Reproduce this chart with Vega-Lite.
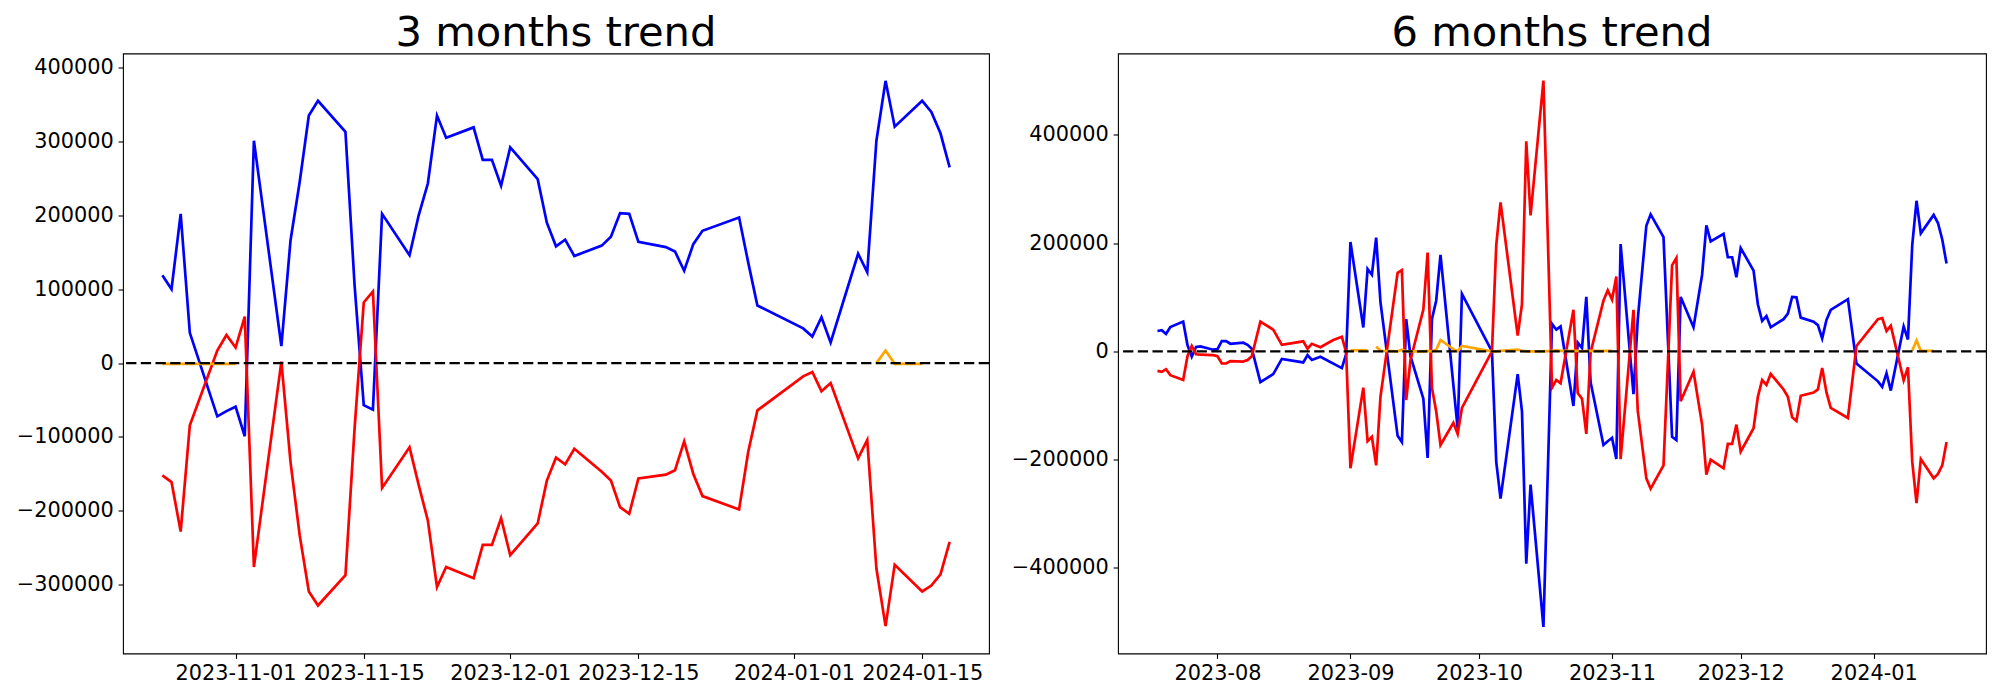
{
"$schema": "https://vega.github.io/schema/vega-lite/v6.json",
"background": "white",
"padding": {"left": 15, "top": 12.5, "right": 5, "bottom": 5},
"config": {
  "view": {"stroke": "black", "strokeWidth": 1.1},
  "font": "DejaVu Sans",
  "axis": {"grid": false, "domain": false, "tickColor": "black", "tickWidth": 1.1, "tickSize": 4.9, "labelPadding": 4.9, "labelFontSize": 20.83, "labelColor": "black", "labelFont": "DejaVu Sans", "title": null, "labelOverlap": false, "labelFlush": false, "labelBound": false},
  "title": {"fontSize": 41.67, "font": "DejaVu Sans", "fontWeight": "normal", "color": "black", "offset": -1.5, "baseline": "alphabetic", "frame": "group", "anchor": "middle"}
},
"datasets": {
"left": [
{"d":"2023-10-24","s":"b","g":"b","v":119000},{"d":"2023-10-25","s":"b","g":"b","v":100000},{"d":"2023-10-26","s":"b","g":"b","v":202000},{"d":"2023-10-27","s":"b","g":"b","v":41000},{"d":"2023-10-30","s":"b","g":"b","v":-72000},{"d":"2023-10-31","s":"b","g":"b","v":-65000},{"d":"2023-11-01","s":"b","g":"b","v":-59000},{"d":"2023-11-02","s":"b","g":"b","v":-99000},{"d":"2023-11-03","s":"b","g":"b","v":301000},{"d":"2023-11-06","s":"b","g":"b","v":23000},{"d":"2023-11-07","s":"b","g":"b","v":166000},{"d":"2023-11-08","s":"b","g":"b","v":245000},{"d":"2023-11-09","s":"b","g":"b","v":335000},{"d":"2023-11-10","s":"b","g":"b","v":355000},{"d":"2023-11-13","s":"b","g":"b","v":313000},{"d":"2023-11-14","s":"b","g":"b","v":105000},{"d":"2023-11-15","s":"b","g":"b","v":-57000},{"d":"2023-11-16","s":"b","g":"b","v":-63000},{"d":"2023-11-17","s":"b","g":"b","v":202000},{"d":"2023-11-20","s":"b","g":"b","v":146000},{"d":"2023-11-21","s":"b","g":"b","v":200000},{"d":"2023-11-22","s":"b","g":"b","v":243000},{"d":"2023-11-23","s":"b","g":"b","v":335000},{"d":"2023-11-24","s":"b","g":"b","v":305000},{"d":"2023-11-27","s":"b","g":"b","v":319000},{"d":"2023-11-28","s":"b","g":"b","v":275000},{"d":"2023-11-29","s":"b","g":"b","v":275000},{"d":"2023-11-30","s":"b","g":"b","v":240000},{"d":"2023-12-01","s":"b","g":"b","v":292000},{"d":"2023-12-04","s":"b","g":"b","v":249000},{"d":"2023-12-05","s":"b","g":"b","v":190000},{"d":"2023-12-06","s":"b","g":"b","v":158000},{"d":"2023-12-07","s":"b","g":"b","v":167000},{"d":"2023-12-08","s":"b","g":"b","v":145000},{"d":"2023-12-11","s":"b","g":"b","v":159000},{"d":"2023-12-12","s":"b","g":"b","v":171000},{"d":"2023-12-13","s":"b","g":"b","v":203000},{"d":"2023-12-14","s":"b","g":"b","v":202000},{"d":"2023-12-15","s":"b","g":"b","v":164000},{"d":"2023-12-18","s":"b","g":"b","v":157000},{"d":"2023-12-19","s":"b","g":"b","v":151000},{"d":"2023-12-20","s":"b","g":"b","v":125000},{"d":"2023-12-21","s":"b","g":"b","v":161000},{"d":"2023-12-22","s":"b","g":"b","v":179000},{"d":"2023-12-26","s":"b","g":"b","v":197000},{"d":"2023-12-27","s":"b","g":"b","v":136000},{"d":"2023-12-28","s":"b","g":"b","v":78000},{"d":"2024-01-02","s":"b","g":"b","v":47000},{"d":"2024-01-03","s":"b","g":"b","v":36000},{"d":"2024-01-04","s":"b","g":"b","v":62000},{"d":"2024-01-05","s":"b","g":"b","v":28000},{"d":"2024-01-08","s":"b","g":"b","v":148000},{"d":"2024-01-09","s":"b","g":"b","v":123000},{"d":"2024-01-10","s":"b","g":"b","v":301000},{"d":"2024-01-11","s":"b","g":"b","v":382000},{"d":"2024-01-12","s":"b","g":"b","v":320000},{"d":"2024-01-15","s":"b","g":"b","v":355000},{"d":"2024-01-16","s":"b","g":"b","v":340000},{"d":"2024-01-17","s":"b","g":"b","v":311000},{"d":"2024-01-18","s":"b","g":"b","v":265000},
{"d":"2023-10-24","s":"r","g":"r","v":-152000},{"d":"2023-10-25","s":"r","g":"r","v":-161000},{"d":"2023-10-26","s":"r","g":"r","v":-228000},{"d":"2023-10-27","s":"r","g":"r","v":-84000},{"d":"2023-10-30","s":"r","g":"r","v":17000},{"d":"2023-10-31","s":"r","g":"r","v":38000},{"d":"2023-11-01","s":"r","g":"r","v":21000},{"d":"2023-11-02","s":"r","g":"r","v":63000},{"d":"2023-11-03","s":"r","g":"r","v":-276000},{"d":"2023-11-06","s":"r","g":"r","v":2000},{"d":"2023-11-07","s":"r","g":"r","v":-134000},{"d":"2023-11-08","s":"r","g":"r","v":-233000},{"d":"2023-11-09","s":"r","g":"r","v":-309000},{"d":"2023-11-10","s":"r","g":"r","v":-328000},{"d":"2023-11-13","s":"r","g":"r","v":-287000},{"d":"2023-11-14","s":"r","g":"r","v":-88000},{"d":"2023-11-15","s":"r","g":"r","v":82000},{"d":"2023-11-16","s":"r","g":"r","v":97000},{"d":"2023-11-17","s":"r","g":"r","v":-169000},{"d":"2023-11-20","s":"r","g":"r","v":-114000},{"d":"2023-11-21","s":"r","g":"r","v":-165000},{"d":"2023-11-22","s":"r","g":"r","v":-213000},{"d":"2023-11-23","s":"r","g":"r","v":-303000},{"d":"2023-11-24","s":"r","g":"r","v":-276000},{"d":"2023-11-27","s":"r","g":"r","v":-291000},{"d":"2023-11-28","s":"r","g":"r","v":-246000},{"d":"2023-11-29","s":"r","g":"r","v":-246000},{"d":"2023-11-30","s":"r","g":"r","v":-210000},{"d":"2023-12-01","s":"r","g":"r","v":-260000},{"d":"2023-12-04","s":"r","g":"r","v":-217000},{"d":"2023-12-05","s":"r","g":"r","v":-159000},{"d":"2023-12-06","s":"r","g":"r","v":-128000},{"d":"2023-12-07","s":"r","g":"r","v":-137000},{"d":"2023-12-08","s":"r","g":"r","v":-116000},{"d":"2023-12-11","s":"r","g":"r","v":-147000},{"d":"2023-12-12","s":"r","g":"r","v":-159000},{"d":"2023-12-13","s":"r","g":"r","v":-195000},{"d":"2023-12-14","s":"r","g":"r","v":-204000},{"d":"2023-12-15","s":"r","g":"r","v":-156000},{"d":"2023-12-18","s":"r","g":"r","v":-151000},{"d":"2023-12-19","s":"r","g":"r","v":-145000},{"d":"2023-12-20","s":"r","g":"r","v":-106000},{"d":"2023-12-21","s":"r","g":"r","v":-150000},{"d":"2023-12-22","s":"r","g":"r","v":-180000},{"d":"2023-12-26","s":"r","g":"r","v":-198000},{"d":"2023-12-27","s":"r","g":"r","v":-120000},{"d":"2023-12-28","s":"r","g":"r","v":-64000},{"d":"2024-01-02","s":"r","g":"r","v":-18000},{"d":"2024-01-03","s":"r","g":"r","v":-12000},{"d":"2024-01-04","s":"r","g":"r","v":-38000},{"d":"2024-01-05","s":"r","g":"r","v":-27000},{"d":"2024-01-08","s":"r","g":"r","v":-129000},{"d":"2024-01-09","s":"r","g":"r","v":-104000},{"d":"2024-01-10","s":"r","g":"r","v":-278000},{"d":"2024-01-11","s":"r","g":"r","v":-356000},{"d":"2024-01-12","s":"r","g":"r","v":-273000},{"d":"2024-01-15","s":"r","g":"r","v":-309000},{"d":"2024-01-16","s":"r","g":"r","v":-301000},{"d":"2024-01-17","s":"r","g":"r","v":-286000},{"d":"2024-01-18","s":"r","g":"r","v":-242000},
{"d":"2023-10-24","s":"o","g":"o1","v":-1000},{"d":"2023-10-25","s":"o","g":"o1","v":-1000},{"d":"2023-10-26","s":"o","g":"o1","v":-1000},{"d":"2023-10-27","s":"o","g":"o1","v":-1000},{"d":"2023-10-30","s":"o","g":"o1","v":-1000},{"d":"2023-10-31","s":"o","g":"o1","v":-1000},{"d":"2023-11-01","s":"o","g":"o1","v":-1000},
{"d":"2024-01-10","s":"o","g":"o2","v":0},{"d":"2024-01-11","s":"o","g":"o2","v":17000},{"d":"2024-01-12","s":"o","g":"o2","v":-1000},{"d":"2024-01-15","s":"o","g":"o2","v":-1000}
],
"right": [
{"d":"2023-07-18","s":"b","g":"b","v":37600},{"d":"2023-07-19","s":"b","g":"b","v":39000},{"d":"2023-07-20","s":"b","g":"b","v":32000},{"d":"2023-07-21","s":"b","g":"b","v":45000},{"d":"2023-07-24","s":"b","g":"b","v":55000},{"d":"2023-07-25","s":"b","g":"b","v":11600},{"d":"2023-07-26","s":"b","g":"b","v":-10000},{"d":"2023-07-27","s":"b","g":"b","v":8000},{"d":"2023-07-28","s":"b","g":"b","v":9000},{"d":"2023-07-31","s":"b","g":"b","v":3000},{"d":"2023-08-01","s":"b","g":"b","v":4000},{"d":"2023-08-02","s":"b","g":"b","v":19000},{"d":"2023-08-03","s":"b","g":"b","v":19000},{"d":"2023-08-04","s":"b","g":"b","v":14000},{"d":"2023-08-07","s":"b","g":"b","v":16000},{"d":"2023-08-08","s":"b","g":"b","v":12000},{"d":"2023-08-09","s":"b","g":"b","v":5000},{"d":"2023-08-11","s":"b","g":"b","v":-57000},{"d":"2023-08-14","s":"b","g":"b","v":-42000},{"d":"2023-08-16","s":"b","g":"b","v":-14000},{"d":"2023-08-21","s":"b","g":"b","v":-20500},{"d":"2023-08-22","s":"b","g":"b","v":-7000},{"d":"2023-08-23","s":"b","g":"b","v":-16000},{"d":"2023-08-25","s":"b","g":"b","v":-10000},{"d":"2023-08-30","s":"b","g":"b","v":-31000},{"d":"2023-08-31","s":"b","g":"b","v":-5000},{"d":"2023-09-01","s":"b","g":"b","v":202000},{"d":"2023-09-04","s":"b","g":"b","v":44000},{"d":"2023-09-05","s":"b","g":"b","v":152000},{"d":"2023-09-06","s":"b","g":"b","v":141500},{"d":"2023-09-07","s":"b","g":"b","v":210000},{"d":"2023-09-08","s":"b","g":"b","v":91000},{"d":"2023-09-12","s":"b","g":"b","v":-156000},{"d":"2023-09-13","s":"b","g":"b","v":-167500},{"d":"2023-09-14","s":"b","g":"b","v":59500},{"d":"2023-09-15","s":"b","g":"b","v":-9000},{"d":"2023-09-18","s":"b","g":"b","v":-87500},{"d":"2023-09-19","s":"b","g":"b","v":-197000},{"d":"2023-09-20","s":"b","g":"b","v":59500},{"d":"2023-09-21","s":"b","g":"b","v":94000},{"d":"2023-09-22","s":"b","g":"b","v":178000},{"d":"2023-09-26","s":"b","g":"b","v":-142000},{"d":"2023-09-27","s":"b","g":"b","v":106000},{"d":"2023-10-04","s":"b","g":"b","v":0},{"d":"2023-10-05","s":"b","g":"b","v":-204000},{"d":"2023-10-06","s":"b","g":"b","v":-272000},{"d":"2023-10-10","s":"b","g":"b","v":-42000},{"d":"2023-10-11","s":"b","g":"b","v":-111000},{"d":"2023-10-12","s":"b","g":"b","v":-392000},{"d":"2023-10-13","s":"b","g":"b","v":-246000},{"d":"2023-10-16","s":"b","g":"b","v":-509000},{"d":"2023-10-18","s":"b","g":"b","v":51000},{"d":"2023-10-19","s":"b","g":"b","v":40000},{"d":"2023-10-20","s":"b","g":"b","v":46000},{"d":"2023-10-23","s":"b","g":"b","v":-101000},{"d":"2023-10-24","s":"b","g":"b","v":16000},{"d":"2023-10-25","s":"b","g":"b","v":6000},{"d":"2023-10-26","s":"b","g":"b","v":100500},{"d":"2023-10-27","s":"b","g":"b","v":-57000},{"d":"2023-10-30","s":"b","g":"b","v":-173000},{"d":"2023-10-31","s":"b","g":"b","v":-166000},{"d":"2023-11-01","s":"b","g":"b","v":-160000},{"d":"2023-11-02","s":"b","g":"b","v":-199000},{"d":"2023-11-03","s":"b","g":"b","v":198000},{"d":"2023-11-06","s":"b","g":"b","v":-79000},{"d":"2023-11-07","s":"b","g":"b","v":59500},{"d":"2023-11-09","s":"b","g":"b","v":232000},{"d":"2023-11-10","s":"b","g":"b","v":253000},{"d":"2023-11-13","s":"b","g":"b","v":211000},{"d":"2023-11-15","s":"b","g":"b","v":-158000},{"d":"2023-11-16","s":"b","g":"b","v":-164000},{"d":"2023-11-17","s":"b","g":"b","v":100500},{"d":"2023-11-20","s":"b","g":"b","v":44500},{"d":"2023-11-22","s":"b","g":"b","v":141500},{"d":"2023-11-23","s":"b","g":"b","v":232500},{"d":"2023-11-24","s":"b","g":"b","v":203000},{"d":"2023-11-27","s":"b","g":"b","v":217000},{"d":"2023-11-28","s":"b","g":"b","v":173700},{"d":"2023-11-29","s":"b","g":"b","v":173700},{"d":"2023-11-30","s":"b","g":"b","v":136700},{"d":"2023-12-01","s":"b","g":"b","v":190800},{"d":"2023-12-04","s":"b","g":"b","v":149000},{"d":"2023-12-05","s":"b","g":"b","v":87000},{"d":"2023-12-06","s":"b","g":"b","v":56000},{"d":"2023-12-07","s":"b","g":"b","v":65000},{"d":"2023-12-08","s":"b","g":"b","v":44400},{"d":"2023-12-11","s":"b","g":"b","v":59500},{"d":"2023-12-12","s":"b","g":"b","v":69700},{"d":"2023-12-13","s":"b","g":"b","v":100500},{"d":"2023-12-14","s":"b","g":"b","v":99800},{"d":"2023-12-15","s":"b","g":"b","v":62200},{"d":"2023-12-18","s":"b","g":"b","v":54700},{"d":"2023-12-19","s":"b","g":"b","v":48500},{"d":"2023-12-20","s":"b","g":"b","v":24000},{"d":"2023-12-21","s":"b","g":"b","v":58000},{"d":"2023-12-22","s":"b","g":"b","v":76600},{"d":"2023-12-26","s":"b","g":"b","v":96400},{"d":"2023-12-28","s":"b","g":"b","v":-22600},{"d":"2024-01-02","s":"b","g":"b","v":-55400},{"d":"2024-01-03","s":"b","g":"b","v":-65600},{"d":"2024-01-04","s":"b","g":"b","v":-40300},{"d":"2024-01-05","s":"b","g":"b","v":-72500},{"d":"2024-01-08","s":"b","g":"b","v":45800},{"d":"2024-01-09","s":"b","g":"b","v":21900},{"d":"2024-01-10","s":"b","g":"b","v":196000},{"d":"2024-01-11","s":"b","g":"b","v":278000},{"d":"2024-01-12","s":"b","g":"b","v":218000},{"d":"2024-01-15","s":"b","g":"b","v":252000},{"d":"2024-01-16","s":"b","g":"b","v":237000},{"d":"2024-01-17","s":"b","g":"b","v":206500},{"d":"2024-01-18","s":"b","g":"b","v":162000},
{"d":"2023-07-18","s":"r","g":"r","v":-36000},{"d":"2023-07-19","s":"r","g":"r","v":-38000},{"d":"2023-07-20","s":"r","g":"r","v":-33000},{"d":"2023-07-21","s":"r","g":"r","v":-44000},{"d":"2023-07-24","s":"r","g":"r","v":-53000},{"d":"2023-07-25","s":"r","g":"r","v":-9000},{"d":"2023-07-26","s":"r","g":"r","v":10000},{"d":"2023-07-27","s":"r","g":"r","v":-5500},{"d":"2023-07-28","s":"r","g":"r","v":-6000},{"d":"2023-07-31","s":"r","g":"r","v":-7000},{"d":"2023-08-01","s":"r","g":"r","v":-9000},{"d":"2023-08-02","s":"r","g":"r","v":-22500},{"d":"2023-08-03","s":"r","g":"r","v":-22500},{"d":"2023-08-04","s":"r","g":"r","v":-18000},{"d":"2023-08-07","s":"r","g":"r","v":-19000},{"d":"2023-08-08","s":"r","g":"r","v":-16000},{"d":"2023-08-09","s":"r","g":"r","v":-9000},{"d":"2023-08-11","s":"r","g":"r","v":55000},{"d":"2023-08-14","s":"r","g":"r","v":40000},{"d":"2023-08-16","s":"r","g":"r","v":12000},{"d":"2023-08-21","s":"r","g":"r","v":18500},{"d":"2023-08-22","s":"r","g":"r","v":5000},{"d":"2023-08-23","s":"r","g":"r","v":14000},{"d":"2023-08-25","s":"r","g":"r","v":7500},{"d":"2023-08-28","s":"r","g":"r","v":21000},{"d":"2023-08-30","s":"r","g":"r","v":27000},{"d":"2023-08-31","s":"r","g":"r","v":-2000},{"d":"2023-09-01","s":"r","g":"r","v":-216000},{"d":"2023-09-04","s":"r","g":"r","v":-67000},{"d":"2023-09-05","s":"r","g":"r","v":-166000},{"d":"2023-09-06","s":"r","g":"r","v":-158000},{"d":"2023-09-07","s":"r","g":"r","v":-210500},{"d":"2023-09-08","s":"r","g":"r","v":-84000},{"d":"2023-09-12","s":"r","g":"r","v":145000},{"d":"2023-09-13","s":"r","g":"r","v":150000},{"d":"2023-09-14","s":"r","g":"r","v":-90000},{"d":"2023-09-15","s":"r","g":"r","v":-16000},{"d":"2023-09-18","s":"r","g":"r","v":77000},{"d":"2023-09-19","s":"r","g":"r","v":182500},{"d":"2023-09-20","s":"r","g":"r","v":-67000},{"d":"2023-09-21","s":"r","g":"r","v":-111000},{"d":"2023-09-22","s":"r","g":"r","v":-173000},{"d":"2023-09-25","s":"r","g":"r","v":-132000},{"d":"2023-09-26","s":"r","g":"r","v":-152500},{"d":"2023-09-27","s":"r","g":"r","v":-104600},{"d":"2023-10-04","s":"r","g":"r","v":0},{"d":"2023-10-05","s":"r","g":"r","v":196000},{"d":"2023-10-06","s":"r","g":"r","v":275000},{"d":"2023-10-10","s":"r","g":"r","v":29000},{"d":"2023-10-11","s":"r","g":"r","v":87000},{"d":"2023-10-12","s":"r","g":"r","v":388000},{"d":"2023-10-13","s":"r","g":"r","v":251000},{"d":"2023-10-16","s":"r","g":"r","v":500000},{"d":"2023-10-18","s":"r","g":"r","v":-67000},{"d":"2023-10-19","s":"r","g":"r","v":-53000},{"d":"2023-10-20","s":"r","g":"r","v":-59000},{"d":"2023-10-23","s":"r","g":"r","v":76600},{"d":"2023-10-24","s":"r","g":"r","v":-77000},{"d":"2023-10-25","s":"r","g":"r","v":-87500},{"d":"2023-10-26","s":"r","g":"r","v":-152500},{"d":"2023-10-27","s":"r","g":"r","v":-2000},{"d":"2023-10-30","s":"r","g":"r","v":93700},{"d":"2023-10-31","s":"r","g":"r","v":112800},{"d":"2023-11-01","s":"r","g":"r","v":95700},{"d":"2023-11-02","s":"r","g":"r","v":138000},{"d":"2023-11-03","s":"r","g":"r","v":-199000},{"d":"2023-11-06","s":"r","g":"r","v":76600},{"d":"2023-11-07","s":"r","g":"r","v":-110000},{"d":"2023-11-09","s":"r","g":"r","v":-234500},{"d":"2023-11-10","s":"r","g":"r","v":-253600},{"d":"2023-11-13","s":"r","g":"r","v":-210600},{"d":"2023-11-15","s":"r","g":"r","v":158600},{"d":"2023-11-16","s":"r","g":"r","v":172300},{"d":"2023-11-17","s":"r","g":"r","v":-92300},{"d":"2023-11-20","s":"r","g":"r","v":-37600},{"d":"2023-11-22","s":"r","g":"r","v":-135400},{"d":"2023-11-23","s":"r","g":"r","v":-227700},{"d":"2023-11-24","s":"r","g":"r","v":-200000},{"d":"2023-11-27","s":"r","g":"r","v":-216000},{"d":"2023-11-28","s":"r","g":"r","v":-171000},{"d":"2023-11-29","s":"r","g":"r","v":-171000},{"d":"2023-11-30","s":"r","g":"r","v":-135400},{"d":"2023-12-01","s":"r","g":"r","v":-185300},{"d":"2023-12-04","s":"r","g":"r","v":-142000},{"d":"2023-12-05","s":"r","g":"r","v":-84000},{"d":"2023-12-06","s":"r","g":"r","v":-53000},{"d":"2023-12-07","s":"r","g":"r","v":-62000},{"d":"2023-12-08","s":"r","g":"r","v":-41700},{"d":"2023-12-11","s":"r","g":"r","v":-70400},{"d":"2023-12-12","s":"r","g":"r","v":-84000},{"d":"2023-12-13","s":"r","g":"r","v":-121700},{"d":"2023-12-14","s":"r","g":"r","v":-128500},{"d":"2023-12-15","s":"r","g":"r","v":-82000},{"d":"2023-12-18","s":"r","g":"r","v":-76000},{"d":"2023-12-19","s":"r","g":"r","v":-70400},{"d":"2023-12-20","s":"r","g":"r","v":-30800},{"d":"2023-12-21","s":"r","g":"r","v":-75900},{"d":"2023-12-22","s":"r","g":"r","v":-104600},{"d":"2023-12-26","s":"r","g":"r","v":-123000},{"d":"2023-12-28","s":"r","g":"r","v":10000},{"d":"2024-01-02","s":"r","g":"r","v":59500},{"d":"2024-01-03","s":"r","g":"r","v":61500},{"d":"2024-01-04","s":"r","g":"r","v":37600},{"d":"2024-01-05","s":"r","g":"r","v":47200},{"d":"2024-01-08","s":"r","g":"r","v":-53300},{"d":"2024-01-09","s":"r","g":"r","v":-29400},{"d":"2024-01-10","s":"r","g":"r","v":-203700},{"d":"2024-01-11","s":"r","g":"r","v":-280300},{"d":"2024-01-12","s":"r","g":"r","v":-199000},{"d":"2024-01-15","s":"r","g":"r","v":-234500},{"d":"2024-01-16","s":"r","g":"r","v":-226300},{"d":"2024-01-17","s":"r","g":"r","v":-210600},{"d":"2024-01-18","s":"r","g":"r","v":-167500},
{"d":"2023-09-01","s":"o","g":"o1","v":2000},{"d":"2023-09-04","s":"o","g":"o1","v":2000},{"d":"2023-09-05","s":"o","g":"o1","v":2000},
{"d":"2023-09-07","s":"o","g":"o2","v":9000},{"d":"2023-09-08","s":"o","g":"o2","v":1000},{"d":"2023-09-12","s":"o","g":"o2","v":0},{"d":"2023-09-13","s":"o","g":"o2","v":3000},{"d":"2023-09-14","s":"o","g":"o2","v":0},{"d":"2023-09-15","s":"o","g":"o2","v":0},{"d":"2023-09-18","s":"o","g":"o2","v":0},{"d":"2023-09-19","s":"o","g":"o2","v":1000},{"d":"2023-09-20","s":"o","g":"o2","v":0},{"d":"2023-09-21","s":"o","g":"o2","v":3000},{"d":"2023-09-22","s":"o","g":"o2","v":21000},{"d":"2023-09-25","s":"o","g":"o2","v":4000},{"d":"2023-09-26","s":"o","g":"o2","v":0},{"d":"2023-09-27","s":"o","g":"o2","v":10000},{"d":"2023-10-04","s":"o","g":"o2","v":0},{"d":"2023-10-05","s":"o","g":"o2","v":0},{"d":"2023-10-06","s":"o","g":"o2","v":1000},{"d":"2023-10-10","s":"o","g":"o2","v":3000},{"d":"2023-10-11","s":"o","g":"o2","v":1000},{"d":"2023-10-12","s":"o","g":"o2","v":0},{"d":"2023-10-13","s":"o","g":"o2","v":0},{"d":"2023-10-16","s":"o","g":"o2","v":0},{"d":"2023-10-18","s":"o","g":"o2","v":1000},{"d":"2023-10-19","s":"o","g":"o2","v":2000},{"d":"2023-10-20","s":"o","g":"o2","v":1000},{"d":"2023-10-23","s":"o","g":"o2","v":1000},{"d":"2023-10-24","s":"o","g":"o2","v":1000},{"d":"2023-10-25","s":"o","g":"o2","v":0},{"d":"2023-10-26","s":"o","g":"o2","v":1000},{"d":"2023-10-27","s":"o","g":"o2","v":1000},{"d":"2023-10-30","s":"o","g":"o2","v":1000},{"d":"2023-10-31","s":"o","g":"o2","v":1000},{"d":"2023-11-01","s":"o","g":"o2","v":1000},
{"d":"2024-01-10","s":"o","g":"o3","v":1000},{"d":"2024-01-11","s":"o","g":"o3","v":20000},{"d":"2024-01-12","s":"o","g":"o3","v":1000},{"d":"2024-01-15","s":"o","g":"o3","v":1000}
]
},
"spacing": 19,
"resolve": {"scale": {"x": "independent", "y": "independent"}},
"hconcat": [
{
  "title": {"text": "3 months trend"},
  "width": 866, "height": 600,
  "layer": [
    {
      "data": {"name": "left"},
      "mark": {"type": "line", "strokeWidth": 2.7, "clip": true},
      "encoding": {
        "x": {"field": "d", "type": "temporal", "scale": {"type": "utc", "domain": [1697734080000, 1705907520000]}, "axis": {"values": [1698796800000, 1700006400000, 1701388800000, 1702598400000, 1704067200000, 1705276800000], "labelExpr": "utcFormat(datum.value, '%Y-%m-%d')"}},
        "y": {"field": "v", "type": "quantitative", "scale": {"domain": [-393000, 419000], "nice": false, "zero": false}, "axis": {"values": [-300000, -200000, -100000, 0, 100000, 200000, 300000, 400000], "format": "d"}},
        "color": {"field": "s", "type": "nominal", "scale": {"domain": ["b", "r", "o"], "range": ["blue", "red", "orange"]}, "legend": null},
        "detail": {"field": "g"}
      }
    },
    {
      "data": {"values": [{}]},
      "mark": {"type": "rule", "color": "black", "strokeDash": [10.3, 4.4], "strokeWidth": 2.4},
      "encoding": {"y": {"datum": 0}}
    }
  ]
},
{
  "title": {"text": "6 months trend"},
  "width": 868, "height": 600,
  "layer": [
    {
      "data": {"name": "right"},
      "mark": {"type": "line", "strokeWidth": 2.7, "clip": true},
      "encoding": {
        "x": {"field": "d", "type": "temporal", "scale": {"type": "utc", "domain": [1688843520000, 1706330880000]}, "axis": {"values": [1690848000000, 1693526400000, 1696118400000, 1698796800000, 1701388800000, 1704067200000], "labelExpr": "utcFormat(datum.value, '%Y-%m')"}},
        "y": {"field": "v", "type": "quantitative", "scale": {"domain": [-558000, 550000], "nice": false, "zero": false}, "axis": {"values": [-400000, -200000, 0, 200000, 400000], "format": "d"}},
        "color": {"field": "s", "type": "nominal", "scale": {"domain": ["b", "r", "o"], "range": ["blue", "red", "orange"]}, "legend": null},
        "detail": {"field": "g"}
      }
    },
    {
      "data": {"values": [{}]},
      "mark": {"type": "rule", "color": "black", "strokeDash": [10.3, 4.4], "strokeWidth": 2.4},
      "encoding": {"y": {"datum": 0}}
    }
  ]
}
]
}
